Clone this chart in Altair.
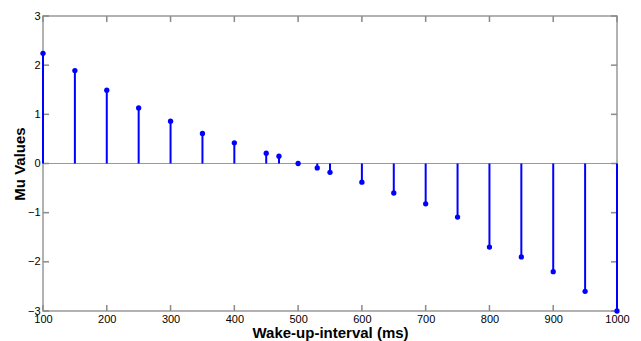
import altair as alt
import pandas as pd

intervals = [100, 150, 200, 250, 300, 350, 400, 450, 470, 500, 530, 550,
             600, 650, 700, 750, 800, 850, 900, 950, 1000]
mu_values = [2.24, 1.89, 1.49, 1.13, 0.86, 0.61, 0.42, 0.21, 0.15, 0.0, -0.09, -0.18,
             -0.38, -0.60, -0.82, -1.09, -1.70, -1.90, -2.20, -2.60, -3.0]
x_ticks = [100, 200, 300, 400, 500, 600, 700, 800, 900, 1000]
y_ticks = [-3, -2, -1, 0, 1, 2, 3]

W, H = 574, 295
TL = 6
FONT = "Liberation Sans"
GRAY = "#999999"
TICK = "#8a8a8a"
BLUE = "#0000ff"

XMIN, XMAX = 100, 1000
YMIN, YMAX = -3, 3
dx = TL / W * (XMAX - XMIN)   # tick length expressed in data units
dy = TL / H * (YMAX - YMIN)

df = pd.DataFrame({"x": intervals, "y": mu_values})
xt = alt.Data(values=[{"tx": v, "yb": YMIN, "yb2": YMIN + dy, "yt": YMAX, "yt2": YMAX - dy}
                      for v in x_ticks])
yt = alt.Data(values=[{"ty": v, "xl": XMIN, "xl2": XMIN + dx, "xr": XMAX, "xr2": XMAX - dx}
                      for v in y_ticks])

xs = alt.Scale(domain=[XMIN, XMAX], nice=False, zero=False)
ys = alt.Scale(domain=[YMIN, YMAX], nice=False)

x_main = alt.X("x:Q", scale=xs, title="Wake-up-interval (ms)",
               axis=alt.Axis(values=x_ticks, ticks=False, domain=False, grid=False,
                             format="d", labelFlush=False,
                             labelFont=FONT, labelFontSize=11, labelColor="#000",
                             labelPadding=2, titleFont=FONT, titleFontSize=15,
                             titleFontWeight="bold", titleColor="#000", titlePadding=1))
y_main = alt.Y("y:Q", scale=ys, title="Mu Values",
               axis=alt.Axis(values=y_ticks, ticks=False, domain=False, grid=False,
                             format="d", labelFlush=False,
                             labelFont=FONT, labelFontSize=11, labelColor="#000",
                             labelPadding=3, titleFont=FONT, titleFontSize=15,
                             titleFontWeight="bold", titleColor="#000", titlePadding=0))

base = alt.Chart(df)
zero = base.mark_rule(color=GRAY, strokeWidth=1.2).encode(y=alt.datum(0))
stems = base.mark_rule(color=BLUE, strokeWidth=2).encode(x=x_main, y=y_main, y2=alt.datum(0))
points = base.mark_circle(color=BLUE, size=28, opacity=1).encode(x=x_main, y=y_main)

rs = dict(color=TICK, strokeWidth=1.5, opacity=1)
ticks_bottom = alt.Chart(xt).mark_rule(**rs).encode(
    x=alt.X("tx:Q", scale=xs), y=alt.Y("yb:Q", scale=ys), y2="yb2:Q")
ticks_top = alt.Chart(xt).mark_rule(**rs).encode(
    x=alt.X("tx:Q", scale=xs), y=alt.Y("yt:Q", scale=ys), y2="yt2:Q")
ticks_left = alt.Chart(yt).mark_rule(**rs).encode(
    y=alt.Y("ty:Q", scale=ys), x=alt.X("xl:Q", scale=xs), x2="xl2:Q")
ticks_right = alt.Chart(yt).mark_rule(**rs).encode(
    y=alt.Y("ty:Q", scale=ys), x=alt.X("xr:Q", scale=xs), x2="xr2:Q")

chart = alt.layer(zero, ticks_bottom, ticks_top, ticks_left, ticks_right, stems, points).properties(
    width=W, height=H,
    autosize=alt.AutoSizeParams(type="none"),
    padding={"left": 35, "top": 8, "right": 16, "bottom": 33},
    background="white",
).configure_view(stroke=GRAY, strokeWidth=1.5)

chart.save("out.html", embed_options={"renderer": "svg", "actions": False})
